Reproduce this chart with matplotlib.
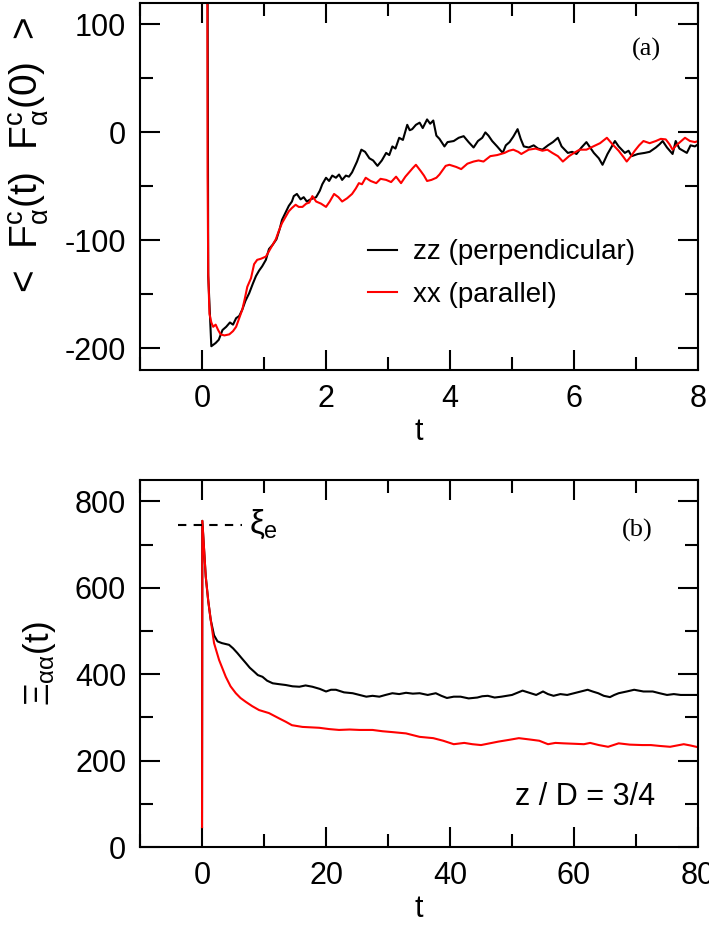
import matplotlib
matplotlib.use("Agg")
import matplotlib.pyplot as plt
import numpy as np
from matplotlib.ticker import MultipleLocator

# --- panel (a): force autocorrelation ---
t_zz_a = [0.08, 0.10, 0.15, 0.22, 0.27, 0.33, 0.39, 0.45, 0.50, 0.55, 0.60, 0.65, 0.70, 0.76,
          0.82, 0.87, 0.92, 0.97, 1.03, 1.08, 1.14, 1.20, 1.25, 1.29, 1.35, 1.40, 1.45, 1.48,
          1.53, 1.59, 1.64, 1.69, 1.75, 1.84, 1.90, 1.94, 2.00, 2.05, 2.10, 2.16, 2.21, 2.26,
          2.32, 2.37, 2.42, 2.50, 2.57, 2.63, 2.70, 2.76, 2.83, 2.90, 2.97, 3.02, 3.07, 3.12,
          3.18, 3.24, 3.31, 3.35, 3.39, 3.45, 3.51, 3.56, 3.63, 3.68, 3.73, 3.78, 3.83, 3.91,
          3.96, 4.06, 4.14, 4.22, 4.30, 4.38, 4.45, 4.52, 4.57, 4.62, 4.68, 4.76, 4.85, 4.90,
          4.96, 5.02, 5.09, 5.14, 5.19, 5.27, 5.35, 5.42, 5.49, 5.58, 5.66, 5.74, 5.80, 5.90,
          5.97, 6.04, 6.12, 6.20, 6.26, 6.32, 6.40, 6.46, 6.50, 6.54, 6.60, 6.66, 6.72, 6.82,
          6.88, 6.93, 7.03, 7.14, 7.22, 7.32, 7.38, 7.43, 7.50, 7.59, 7.64, 7.70, 7.76, 7.82,
          7.88, 7.95, 8.00]
c_zz_a = [400, -133, -198, -195, -192, -183, -180, -176, -178, -172, -170, -164, -156, -149,
          -140, -133, -128, -124, -118, -108, -104, -99, -90, -81, -74, -68, -64, -59,
          -57, -62, -60, -64, -62, -60, -54, -48, -42, -45, -40, -42, -39, -44,
          -40, -41, -37, -27, -16, -18, -24, -26, -31, -26, -19, -21, -13, -15,
          -5, -7, 7, 2, 3, 7, 9, 4, 12, 8, 11, -3, -6, -13,
          -9, -8, -5, -3.5, -9, -14, -8, -5, 0, -3, -8, -13, -19, -12,
          -9, -4, 3, -6, -13, -14, -12, -15, -16, -12, -9, -5, -13, -19,
          -18, -20, -14, -9, -14, -19, -24, -30, -25, -20, -14, -8, -13, -19,
          -17, -22, -20, -19, -18, -14, -11, -8, -14, -20, -8, -15, -17, -19,
          -12, -13, -11]

t_xx_a = [0.08, 0.09, 0.10, 0.12, 0.15, 0.18, 0.22, 0.26, 0.30, 0.36, 0.44, 0.50, 0.55, 0.60,
          0.65, 0.69, 0.73, 0.79, 0.84, 0.89, 0.95, 1.03, 1.10, 1.19, 1.24, 1.29, 1.35, 1.40,
          1.45, 1.51, 1.56, 1.62, 1.68, 1.73, 1.78, 1.84, 1.92, 2.00, 2.06, 2.13, 2.20, 2.26,
          2.34, 2.42, 2.48, 2.53, 2.58, 2.64, 2.72, 2.81, 2.88, 2.97, 3.05, 3.13, 3.21, 3.28,
          3.34, 3.40, 3.45, 3.53, 3.58, 3.63, 3.70, 3.78, 3.83, 3.93, 3.99, 4.10, 4.18, 4.28,
          4.38, 4.46, 4.54, 4.65, 4.76, 4.88, 4.95, 5.02, 5.10, 5.15, 5.27, 5.38, 5.49, 5.57,
          5.65, 5.74, 5.82, 5.92, 6.00, 6.09, 6.20, 6.31, 6.42, 6.53, 6.62, 6.72, 6.80, 6.85,
          6.92, 6.98, 7.05, 7.12, 7.22, 7.32, 7.40, 7.48, 7.54, 7.59, 7.65, 7.71, 7.79, 7.87,
          7.95, 8.00]
c_xx_a = [400, -40, -130, -168, -176, -180, -178, -183, -187, -188, -187, -184, -180, -172,
          -164, -154, -143, -135, -122, -118, -117, -115, -108, -99, -91, -84, -78, -73,
          -70, -67, -69, -69, -66, -65, -59, -64, -66, -69, -64, -57, -60, -64,
          -61, -57, -52, -47, -48, -42, -45, -47, -43, -44, -46, -41, -47, -41,
          -37, -33, -30, -36, -40, -45, -44, -42, -39, -31, -30, -32, -34, -29,
          -27, -26, -27, -22, -21, -19, -17, -16, -18, -20, -16, -15, -17, -16,
          -19, -22, -27, -22, -19, -16, -16, -13, -10, -5, -11, -17, -23, -27,
          -22, -17, -12, -8, -10, -8, -6, -6.5, -11, -16, -12, -9, -5, -8,
          -9, -8]

# --- panel (b): friction kernel ---
t_zz_b = [0.0, 0.05, 0.6, 1.0, 1.4, 1.94, 2.5, 3.2, 4.36, 5.0, 5.7, 6.4, 7.06, 7.7, 8.4, 9.0,
          9.75, 10.5, 11.4, 12.4, 13.5, 14.6, 15.7, 16.7, 17.8, 19.0, 20.0, 20.8, 21.6, 22.9,
          24.3, 25.4, 26.5, 27.5, 28.6, 29.6, 30.7, 31.8, 32.9, 34.0, 35.1, 36.4, 37.7, 38.6,
          39.5, 40.6, 41.7, 43.0, 44.4, 45.2, 46.1, 47.2, 48.3, 50.0, 51.7, 52.8, 53.9, 55.0,
          55.8, 56.7, 57.8, 58.9, 60.0, 61.1, 62.2, 63.0, 63.9, 64.8, 65.8, 66.5, 67.2, 68.5,
          69.7, 71.2, 72.7, 73.8, 75.0, 76.1, 77.2, 78.6, 80.0]
k_zz_b = [46, 755, 626, 570, 526, 490, 476, 472, 468, 460, 449, 437, 426, 415, 406, 398,
          394, 385, 379, 377, 375, 372, 371, 374, 371, 366, 360, 364, 364, 358,
          356, 352, 348, 350, 348, 352, 356, 354, 357, 355, 356, 352, 356, 350,
          345, 348, 348, 344, 346, 349, 350, 346, 348, 352, 362, 357, 352, 360,
          354, 350, 354, 352, 356, 360, 364, 360, 356, 350, 347, 352, 356, 360,
          364, 360, 360, 356, 352, 354, 352, 352, 352]

t_xx_b = [0.0, 0.05, 0.6, 1.0, 1.4, 1.94, 2.75, 3.83, 4.6, 5.45, 6.2, 7.06, 8.1, 9.2, 10.8,
          11.6, 12.4, 13.5, 14.5, 16.2, 18.9, 20.5, 22.1, 23.8, 25.4, 27.5, 29.1, 30.7, 32.9,
          34.0, 35.1, 37.3, 38.9, 40.6, 42.3, 43.6, 45.0, 46.4, 47.8, 49.5, 51.1, 52.8, 54.4,
          55.8, 57.0, 58.3, 60.0, 61.6, 62.6, 64.0, 65.5, 67.2, 69.0, 71.0, 72.4, 73.8, 75.5,
          77.7, 78.8, 80.0]
k_xx_b = [46, 755, 626, 570, 526, 472, 433, 394, 372, 356, 345, 336, 326, 317, 310,
          304, 298, 290, 282, 278, 276, 273, 271, 272, 271, 271, 268, 266, 263,
          259, 255, 252, 246, 238, 241, 238, 236, 240, 244, 248, 252, 249, 246,
          238, 241, 240, 239, 238, 241, 236, 232, 240, 237, 236, 236, 234, 232,
          238, 235, 231]

XI_E = 746
XI_E_SPAN = (-3.8, 6.5)

plt.rcParams["font.family"] = ["Liberation Sans", "DejaVu Sans"]
plt.rcParams["mathtext.fontset"] = "custom"
plt.rcParams["mathtext.rm"] = "Liberation Sans"
plt.rcParams["mathtext.it"] = "Liberation Sans"
plt.rcParams["mathtext.bf"] = "Liberation Sans:bold"
plt.rcParams["axes.linewidth"] = 1.5
plt.rcParams["axes.unicode_minus"] = False

FS = 22


def style_axes(ax):
    ax.tick_params(which="both", direction="in", top=True, right=True, width=1.5,
                   labelsize=FS)
    ax.tick_params(which="major", length=14.5, pad=10)
    ax.tick_params(which="minor", length=9.5)


fig = plt.figure(figsize=(7.09, 9.25), dpi=100)
ax1 = fig.add_axes([0.1975, 0.6, 0.787, 0.397])
ax2 = fig.add_axes([0.1975, 0.0843, 0.787, 0.397])

# panel (a)
ax1.plot(t_zz_a, c_zz_a, color="black", lw=1.5, label="zz (perpendicular)")
ax1.plot(t_xx_a, c_xx_a, color="red", lw=1.5, label="xx (parallel)")
ax1.set_xlim(-1, 8)
ax1.set_ylim(-220, 120)
ax1.xaxis.set_major_locator(MultipleLocator(2))
ax1.xaxis.set_minor_locator(MultipleLocator(1))
ax1.yaxis.set_major_locator(MultipleLocator(100))
ax1.yaxis.set_minor_locator(MultipleLocator(50))
style_axes(ax1)
ax1.set_xlabel("t", fontsize=FS, labelpad=2)
ax1.set_ylabel(r"<  F$^{\mathrm{c}}_{\alpha}$(t)  F$^{\mathrm{c}}_{\alpha}$(0)  >", fontsize=28)
ax1.yaxis.set_label_coords(-0.16, 0.585)
ax1.text(0.907, 0.872, "(a)", transform=ax1.transAxes, ha="center", va="center",
         fontsize=19, family="Liberation Serif")
ax1.legend(loc="center left", bbox_to_anchor=(0.409, 0.262), frameon=False, fontsize=20,
           handlelength=1.05, handletextpad=0.55, labelspacing=0.6, borderpad=0,
           borderaxespad=0)

# panel (b)
ax2.plot(t_zz_b, k_zz_b, color="black", lw=1.5)
ax2.plot(t_xx_b, k_xx_b, color="red", lw=1.5)
ax2.hlines(XI_E, XI_E_SPAN[0], XI_E_SPAN[1], colors="black", lw=1.5,
           linestyles=(0, (4, 3.5)))
ax2.text(XI_E_SPAN[1] + 1.0, XI_E, r"$\xi_\mathrm{e}$", fontsize=24, ha="left", va="center")
ax2.set_xlim(-10, 80)
ax2.set_ylim(0, 850)
ax2.xaxis.set_major_locator(MultipleLocator(20))
ax2.xaxis.set_minor_locator(MultipleLocator(10))
ax2.yaxis.set_major_locator(MultipleLocator(200))
ax2.yaxis.set_minor_locator(MultipleLocator(100))
style_axes(ax2)
ax2.set_xlabel("t", fontsize=FS, labelpad=2)
ax2.set_ylabel(r"$\Xi_{\alpha\alpha}$(t)", fontsize=25)
ax2.yaxis.set_label_coords(-0.147, 0.5)
ax2.text(0.891, 0.861, "(b)", transform=ax2.transAxes, ha="center", va="center",
         fontsize=19, family="Liberation Serif")
ax2.text(0.923, 0.136, "z / D = 3/4", transform=ax2.transAxes, ha="right", va="center",
         fontsize=FS)

fig.savefig("out.png", dpi=100)
